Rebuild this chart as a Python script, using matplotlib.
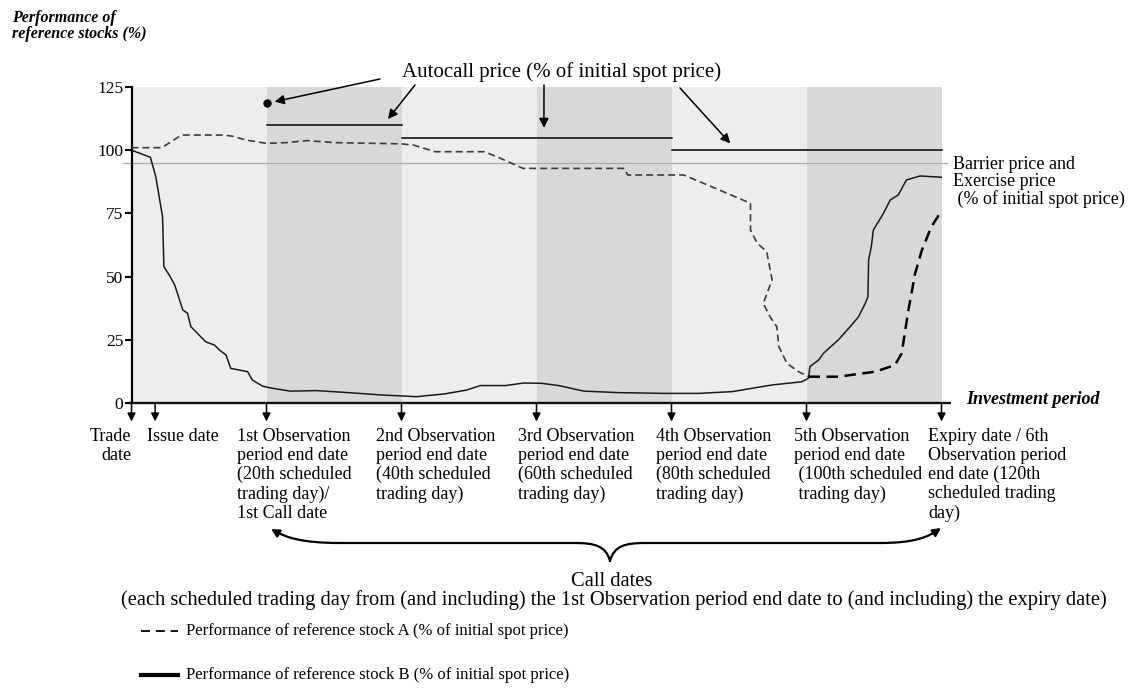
import matplotlib
matplotlib.use("Agg")
import matplotlib.pyplot as plt
from matplotlib.path import Path
from matplotlib.patches import FancyArrowPatch
from matplotlib.lines import Line2D

W, H = 1129, 688

# performance of reference stock A (% of initial spot), up to the crossing
stock_a_days = [0, 4.5, 7.4, 13.8, 15, 17, 20, 23, 26, 30, 40, 41.8, 45, 52.3, 55, 58, 73,
                73.5, 81.8, 86, 91.7, 91.7, 92.7, 94.1, 94.9, 93.6, 94.6, 95.6, 95.9,
                97.1, 98.8, 100.3]
stock_a_vals = [101, 101, 106, 106, 105.5, 104, 102.7, 103, 103.8, 103, 102.5, 102, 99.4, 99.4,
                96.4, 92.8, 92.8, 90.2, 90.2, 85.5, 79, 68.4, 63.2, 59.9, 48.7, 39.4, 34.1,
                30.2, 22.3, 15.7, 12.4, 10.4]
# stock A after the crossing (drawn heavier)
stock_a_tail_days = [100.3, 104.7, 110.2, 113.1, 114.1, 115.1, 116.1, 117.1, 118.5, 120]
stock_a_tail_vals = [10.4, 10.4, 12.4, 15, 19.6, 36.8, 51.3, 60.5, 69.7, 76]

# performance of reference stock B
stock_b_days = [0, 2.8, 3.6, 4.6, 4.8, 5.6, 6.4, 7.6, 8.3, 8.8, 11, 12.3, 13, 14, 14.7, 17.2,
                17.9, 19.4, 20.5, 23.5, 27.4, 31.6, 36.9, 42.2, 46.4, 49.6, 51.7, 55.4, 58.1,
                60.7, 63.3, 67, 72.2, 79, 84, 89, 94.8, 99.3, 100.3, 100.5, 101.8, 102.5,
                103.3, 104.7, 106.7, 107.7, 108.7, 109.1, 109.2, 109.6, 109.9, 111.4, 112.4,
                113.6, 114.8, 116.8, 120]
stock_b_vals = [100, 97.2, 89.5, 73.7, 53.9, 50.6, 46.7, 36.8, 35.5, 30.2, 24.2, 22.9, 21, 19,
                13.7, 12.4, 9.1, 6.7, 6.0, 4.7, 4.9, 4.2, 3.2, 2.5, 3.6, 5.1, 6.9, 6.9, 7.9,
                7.8, 6.9, 4.7, 4.1, 3.8, 3.8, 4.5, 7.1, 8.4, 9.8, 14.4, 17, 19.6, 21.6, 24.9,
                30.9, 34.1, 39.4, 42, 56.6, 61.8, 68.4, 75, 80.3, 82.3, 88.2, 89.8, 89.3]

period_edges = [0, 20, 40, 60, 80, 100, 120]
first_call_day = 20
first_call_level = 118.5
autocall_starts = [20, 40, 80]
autocall_ends = [40, 80, 120]
autocall_levels = [110, 105, 100]
barrier_level = 95
yticks = [0, 25, 50, 75, 100, 125]

event_days = [0, 3.5, 20, 40, 60, 80, 100, 120]
event_labels = [
    "Trade\ndate",
    "Issue date",
    "1st Observation\nperiod end date\n(20th scheduled\ntrading day)/\n1st Call date",
    "2nd Observation\nperiod end date\n(40th scheduled\ntrading day)",
    "3rd Observation\nperiod end date\n(60th scheduled\ntrading day)",
    "4th Observation\nperiod end date\n(80th scheduled\ntrading day)",
    "5th Observation\nperiod end date\n (100th scheduled\n trading day)",
    "Expiry date / 6th\nObservation period\nend date (120th\nscheduled trading\nday)",
]
event_label_x = [131, 147, 237, 376, 518, 656, 794, 928]   # pixel left edges

legend_labels = ["Performance of reference stock A (% of initial spot price)",
                 "Performance of reference stock B (% of initial spot price)"]


def fx(x):
    return x / W


def fy(y):
    return 1 - y / H


plt.rcParams['font.family'] = ['Liberation Serif', 'DejaVu Serif']
fig = plt.figure(figsize=(W / 100, H / 100), dpi=100)
ax = fig.add_axes([fx(131.5), fy(403), (941.5 - 131.5) / W, (403 - 87) / H])

light, dark = '#ededed', '#d7d8da'
ax.set_facecolor(light)
for i in range(1, len(period_edges) - 1, 2):
    ax.axvspan(period_edges[i], period_edges[i + 1], color=dark, lw=0, zorder=0)

ax.set_xlim(0, 120)
ax.set_ylim(0, 125)

# barrier / exercise price
ax.plot([-1.3, 120.8], [barrier_level] * 2, color='#aaaaaa', lw=0.9, clip_on=False, zorder=1)

# autocall prices
for s, e, lv in zip(autocall_starts, autocall_ends, autocall_levels):
    ax.plot([s, e], [lv, lv], color='black', lw=1.1, zorder=3, clip_on=False)
ax.plot([first_call_day], [first_call_level], 'o', color='black', ms=5, zorder=4)

# stocks
ax.plot(stock_b_days, stock_b_vals, color='#1a1a1a', lw=1.1, zorder=5)
ax.plot(stock_a_days, stock_a_vals, color='#3c3c3c', lw=1.2, dashes=(4.2, 2.4), zorder=5)
ax.plot(stock_a_tail_days, stock_a_tail_vals, color='black', lw=1.8, dashes=(4.6, 2.6), zorder=5)

# axes
for side in ['top', 'right', 'bottom']:
    ax.spines[side].set_visible(False)
ax.spines['left'].set_linewidth(1.6)
ax.plot([-0.4, 121.4], [0, 0], color='#111111', lw=1.7, clip_on=False, zorder=6,
        solid_capstyle='butt')
ax.set_xticks([])
ax.set_yticks(yticks)
ax.tick_params(axis='y', length=5, width=1.5, pad=1, labelsize=12.5)

# arrows down from the investment period axis
for d in event_days:
    ax.annotate('', xy=(d, -7.3), xytext=(d, -0.3), xycoords='data',
                arrowprops=dict(arrowstyle='-|>', lw=1.1, color='black', mutation_scale=12,
                                shrinkA=0, shrinkB=0),
                annotation_clip=False)

for d, lab, lx in zip(event_days, event_labels, event_label_x):
    if d == 0:
        fig.text(fx(lx), fy(428), lab, ha='right', va='top', fontsize=13,
                 multialignment='right', linespacing=1.15)
    else:
        fig.text(fx(lx), fy(428), lab, ha='left', va='top', fontsize=13, linespacing=1.15)

fig.text(fx(966), fy(400), "Investment period", ha='left', va='center', fontsize=13,
         fontweight='bold', fontstyle='italic')
fig.text(fx(12), fy(10), "Performance of\nreference stocks (%)", ha='left', va='top',
         fontsize=11.5, fontweight='bold', fontstyle='italic', linespacing=1.0)
fig.text(fx(953), fy(156), "Barrier price and\nExercise price\n (% of initial spot price)",
         ha='left', va='top', fontsize=13, linespacing=1.0)

# autocall annotation
fig.text(fx(402), fy(72), "Autocall price (% of initial spot price)", ha='left', va='center',
         fontsize=15)
arrow_targets = [((380, 79), (21.2, 119.2)), ((415, 85), (38.0, 112.3)),
                 ((544, 85), (61.1, 108.8)), ((680, 88), (88.7, 102.7))]
for (tx, ty), (d, v) in arrow_targets:
    ax.annotate('', xy=(d, v), xycoords='data', xytext=(fx(tx), fy(ty)),
                textcoords='figure fraction',
                arrowprops=dict(arrowstyle='-|>', lw=1.1, color='black', mutation_scale=14,
                                shrinkA=0, shrinkB=0),
                annotation_clip=False)

# curly brace for the call dates
tip = (610, 561)
left_arm = [tip, (606, 546), (595, 543), (575, 543), (340, 543),
            (300, 543), (285, 537), (271, 529)]
right_arm = [tip, (614, 546), (625, 543), (645, 543), (880, 543),
             (915, 543), (928, 537), (941, 528)]
codes = [Path.MOVETO, Path.CURVE4, Path.CURVE4, Path.CURVE4, Path.LINETO,
         Path.CURVE4, Path.CURVE4, Path.CURVE4]
for arm in (left_arm, right_arm):
    p = Path([(fx(x), fy(y)) for x, y in arm], codes)
    fig.add_artist(FancyArrowPatch(path=p, arrowstyle='-|>', mutation_scale=12, lw=1.6,
                                   color='black', transform=fig.transFigure))

fig.text(fx(612), fy(581), "Call dates", ha='center', va='center', fontsize=14.8)
fig.text(fx(614), fy(600),
         "(each scheduled trading day from (and including) the 1st Observation period end date"
         " to (and including) the expiry date)", ha='center', va='center', fontsize=14.8)

# legend, drawn by hand to sit where the reference has it
legend_y = [631, 675]
fig.add_artist(Line2D([fx(141), fx(178)], [fy(legend_y[0])] * 2, color='black', lw=1.3,
                      dashes=(5, 3.2), transform=fig.transFigure))
fig.add_artist(Line2D([fx(141), fx(178)], [fy(legend_y[1])] * 2, color='black', lw=3.0,
                      transform=fig.transFigure))
for ly, lab in zip(legend_y, legend_labels):
    fig.text(fx(186), fy(ly), lab, ha='left', va='center', fontsize=12)

fig.savefig('out.png', dpi=100)
